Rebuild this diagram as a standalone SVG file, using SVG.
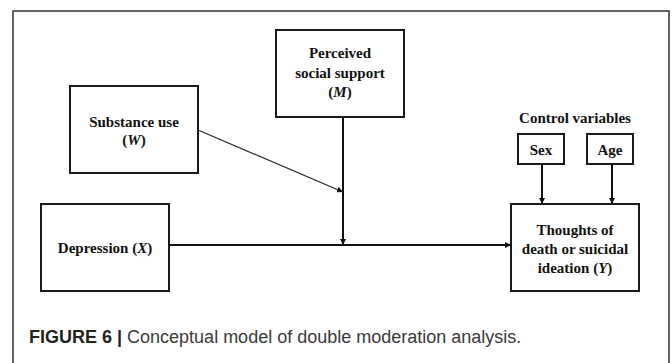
<svg xmlns="http://www.w3.org/2000/svg" width="672" height="363" viewBox="0 0 672 363">
  <defs>
    <marker id="arrow" viewBox="0 0 10 10" refX="10" refY="5" markerWidth="6" markerHeight="6" markerUnits="userSpaceOnUse" orient="auto">
      <path d="M0,0 L10,5 L0,10 z" fill="#111"/>
    </marker>
    <style>
      .box { fill: #fff; stroke: #1a1a1a; stroke-width: 2; }
      .lbl { font-family: "Liberation Serif", "Times New Roman", serif; font-weight: bold; font-size: 15px; fill: #111; text-anchor: middle; }
      .it { font-style: italic; }
      .link { fill: none; stroke: #111; stroke-width: 2; }
      .thin { fill: none; stroke: #222; stroke-width: 1.2; }
      .cap { font-family: "Liberation Sans", Arial, sans-serif; font-size: 18px; fill: #3a3a3a; }
    </style>
  </defs>

  <rect width="672" height="363" fill="#fff"/>
  <!-- figure frame -->
  <path d="M13,364 V11 H669 V364" fill="none" stroke="#333" stroke-width="1.5"/>

  <g id="perceived">
    <rect class="box" x="276" y="30" width="128" height="87"/>
    <text class="lbl" x="340" y="58">Perceived</text>
    <text class="lbl" x="340" y="78">social support</text>
    <text class="lbl" x="340" y="97">(<tspan class="it">M</tspan>)</text>
  </g>

  <g id="substance">
    <rect class="box" x="70" y="86" width="128" height="87"/>
    <text class="lbl" x="134" y="127">Substance use</text>
    <text class="lbl" x="134" y="145">(<tspan class="it">W</tspan>)</text>
  </g>

  <g id="depression">
    <rect class="box" x="41" y="204" width="128" height="87"/>
    <text class="lbl" x="105" y="253">Depression (<tspan class="it">X</tspan>)</text>
  </g>

  <g id="thoughts">
    <rect class="box" x="511" y="204" width="128" height="87"/>
    <text class="lbl" x="575" y="235">Thoughts of</text>
    <text class="lbl" x="575" y="254">death or suicidal</text>
    <text class="lbl" x="575" y="273">ideation (<tspan class="it">Y</tspan>)</text>
  </g>

  <g id="controls">
    <text class="lbl" x="575" y="123">Control variables</text>
  </g>

  <g id="sex">
    <rect class="box" x="518" y="134" width="46" height="30"/>
    <text class="lbl" x="541" y="155">Sex</text>
  </g>

  <g id="age">
    <rect class="box" x="587" y="134" width="46" height="30"/>
    <text class="lbl" x="610" y="155">Age</text>
  </g>

  <g id="connectors">
    <line class="link" x1="169" y1="245" x2="511" y2="245" marker-end="url(#arrow)"/>
    <line class="link" x1="343" y1="117" x2="343" y2="245" marker-end="url(#arrow)"/>
    <line class="thin" x1="198" y1="130" x2="343" y2="192" marker-end="url(#arrow)"/>
    <line class="link" x1="542" y1="164" x2="542" y2="204" marker-end="url(#arrow)"/>
    <line class="link" x1="612" y1="164" x2="612" y2="204" marker-end="url(#arrow)"/>
  </g>

  <text class="cap" x="29" y="343"><tspan font-weight="bold" fill="#222">FIGURE 6 |</tspan> Conceptual model of double moderation analysis.</text>
</svg>
